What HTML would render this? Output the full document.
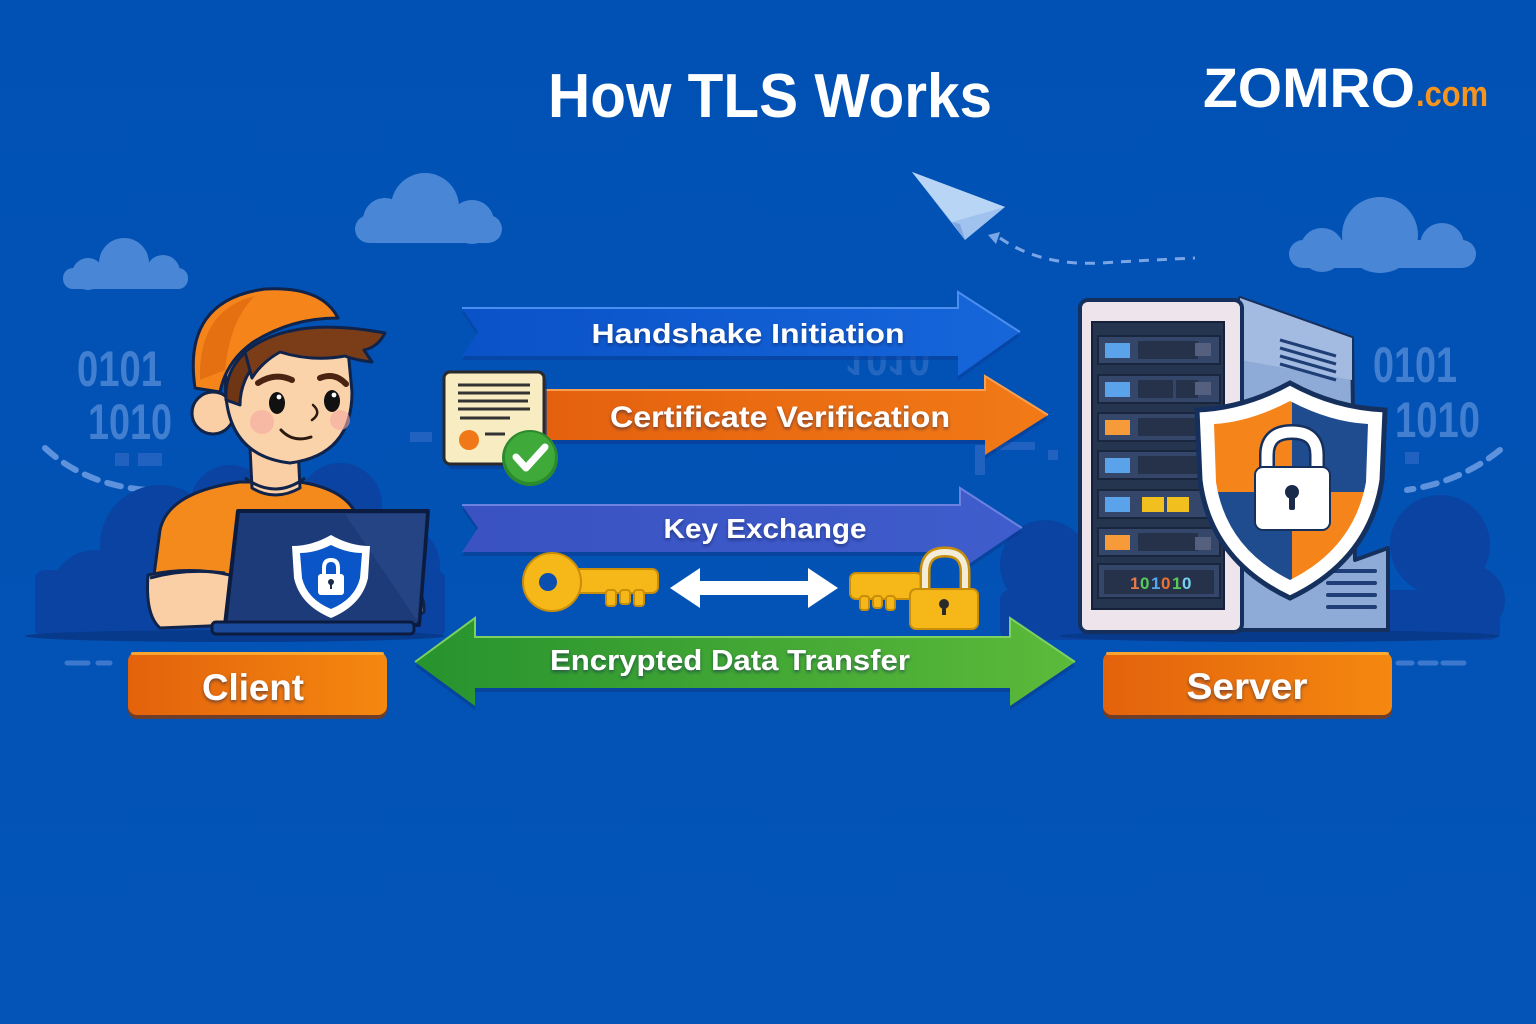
<!DOCTYPE html>
<html><head><meta charset="utf-8"><style>
html,body{margin:0;padding:0;background:#0052b4;}
svg{display:block;}
text{font-family:"Liberation Sans",sans-serif;font-weight:bold;}
</style></head><body>
<svg width="1536" height="1024" viewBox="0 0 1536 1024" xmlns="http://www.w3.org/2000/svg">
<defs>
<linearGradient id="bg" x1="0" y1="0" x2="0" y2="1"><stop offset="0" stop-color="#0051b3"/><stop offset="1" stop-color="#0354b6"/></linearGradient>
<linearGradient id="gBlue" x1="0" y1="0" x2="1" y2="0"><stop offset="0" stop-color="#0a52c8"/><stop offset="1" stop-color="#1666da"/></linearGradient>
<linearGradient id="gOr" x1="0" y1="0" x2="1" y2="0"><stop offset="0" stop-color="#e4600e"/><stop offset="1" stop-color="#f27a16"/></linearGradient>
<linearGradient id="gKey" x1="0" y1="0" x2="1" y2="0"><stop offset="0" stop-color="#3a52c2"/><stop offset="1" stop-color="#3f5dcc"/></linearGradient>
<linearGradient id="gGr" x1="0" y1="0" x2="1" y2="0"><stop offset="0" stop-color="#27932e"/><stop offset="1" stop-color="#5cba3a"/></linearGradient>
<linearGradient id="gBtn" x1="0" y1="0" x2="1" y2="0"><stop offset="0" stop-color="#e3620c"/><stop offset="1" stop-color="#f5880f"/></linearGradient>
<clipPath id="shClip"><path d="M1290 401 Q1250 422 1214 424 L1216 482 Q1226 548 1290 580 Q1354 548 1366 482 L1368 424 Q1330 422 1290 401 Z"/></clipPath>
<filter id="ts" x="-10%" y="-30%" width="120%" height="160%"><feDropShadow dx="0" dy="2" stdDeviation="1.5" flood-color="#0a1e50" flood-opacity="0.55"/></filter>
</defs>
<rect width="1536" height="1024" fill="url(#bg)"/>

<!-- clouds -->
<g fill="#4a86d6">
<circle cx="425" cy="207" r="34"/><circle cx="385" cy="220" r="22"/><circle cx="472" cy="222" r="22"/><rect x="355" y="215" width="147" height="28" rx="14"/>
<circle cx="124" cy="263" r="25"/><circle cx="88" cy="274" r="16"/><circle cx="163" cy="272" r="17"/><rect x="63" y="268" width="125" height="21" rx="10"/>
<circle cx="1380" cy="235" r="38"/><circle cx="1322" cy="250" r="22"/><circle cx="1442" cy="245" r="22"/><rect x="1289" y="240" width="187" height="28" rx="14"/>
</g>

<!-- paper plane -->
<polygon points="912,172 1005,207 965,240" fill="#9fc2ef"/>
<polygon points="912,172 1005,207 952,222" fill="#b9d5f6"/>
<polygon points="952,222 965,240 960,224" fill="#7fa6e0"/>
<path d="M1000 238 Q1040 266 1100 263 Q1150 260 1195 258" fill="none" stroke="#7aa6e6" stroke-width="3" stroke-dasharray="10 8"/>
<polygon points="988,235 1000,232 996,244" fill="#7aa6e6"/>

<!-- title & logo -->
<text x="770" y="117" font-size="62" fill="#fff" text-anchor="middle" textLength="444" lengthAdjust="spacingAndGlyphs">How TLS Works</text>
<text x="1203" y="107" font-size="56" fill="#fff" textLength="212" lengthAdjust="spacingAndGlyphs">ZOMRO</text>
<text x="1416" y="106" font-size="36" fill="#f7941d" textLength="72" lengthAdjust="spacingAndGlyphs">.com</text>

<!-- binary -->
<g fill="#4f88d6" opacity="0.85">
<text x="77" y="386" font-size="50" textLength="85" lengthAdjust="spacingAndGlyphs">0101</text>
<text x="88" y="439" font-size="50" textLength="84" lengthAdjust="spacingAndGlyphs">1010</text>
<text x="1373" y="382" font-size="50" textLength="84" lengthAdjust="spacingAndGlyphs">0101</text>
<text x="1395" y="437" font-size="50" textLength="85" lengthAdjust="spacingAndGlyphs">1010</text>
</g>
<g transform="translate(0,675) scale(1,-1)">
<text x="845" y="330" font-size="44" fill="#3f78cc" opacity="0.55" textLength="85" lengthAdjust="spacingAndGlyphs">1010</text>
</g>
<g fill="#2f68c4" opacity="0.7"><rect x="115" y="453" width="14" height="13"/><rect x="138" y="453" width="24" height="13"/><rect x="410" y="432" width="22" height="10"/><rect x="1048" y="450" width="10" height="10"/><rect x="975" y="445" width="10" height="30"/><rect x="990" y="442" width="45" height="8"/><rect x="1405" y="452" width="14" height="12"/></g>
<path d="M45 448 Q85 485 147 490" fill="none" stroke="#5e92dc" stroke-width="6" stroke-dasharray="14 10" stroke-linecap="round"/>
<path d="M1500 450 Q1460 482 1407 490" fill="none" stroke="#5e92dc" stroke-width="6" stroke-dasharray="14 10" stroke-linecap="round"/>
<g stroke="#3d78cf" stroke-width="5" stroke-linecap="round"><line x1="67" y1="663" x2="88" y2="663"/><line x1="98" y1="663" x2="110" y2="663"/><line x1="1398" y1="663" x2="1412" y2="663"/><line x1="1420" y1="663" x2="1436" y2="663"/><line x1="1443" y1="663" x2="1464" y2="663"/></g>

<!-- dark blobs -->
<g fill="#0a43a2">
<circle cx="95" cy="595" r="45"/><circle cx="160" cy="545" r="60"/><circle cx="230" cy="505" r="40"/><circle cx="340" cy="505" r="42"/><circle cx="400" cy="565" r="40"/><rect x="35" y="570" width="410" height="68" rx="10"/>
<circle cx="1045" cy="565" r="45"/><circle cx="1440" cy="545" r="50"/><circle cx="1470" cy="600" r="35"/><rect x="1000" y="590" width="500" height="50" rx="10"/>
</g>
<ellipse cx="235" cy="636" rx="210" ry="6" fill="#083a8c"/>
<ellipse cx="1280" cy="636" rx="220" ry="6" fill="#083a8c"/>

<!-- ARROWS -->
<polygon points="462,312 958,312 958,296 1020,336 958,380 958,360 462,360 478,336" fill="#0a3f9e" opacity="0.6"/>
<polygon points="462,308 958,308 958,292 1020,332 958,376 958,356 462,356 478,332" fill="url(#gBlue)"/>
<polyline points="462,308 958,308 958,292 1020,332" fill="none" stroke="#4a8ef0" stroke-width="2"/>
<text x="748" y="343" font-size="28" fill="#fff" text-anchor="middle" textLength="313" lengthAdjust="spacingAndGlyphs" filter="url(#ts)">Handshake Initiation</text>

<polygon points="540,394 985,394 985,380 1048,419 985,459 985,444 540,444" fill="#0a3a90" opacity="0.6"/>
<polygon points="540,390 985,390 985,376 1048,415 985,455 985,440 540,440" fill="url(#gOr)"/>
<polyline points="540,390 985,390 985,376 1048,415" fill="none" stroke="#f8a050" stroke-width="2"/>
<text x="780" y="427" font-size="30" fill="#fff" text-anchor="middle" textLength="340" lengthAdjust="spacingAndGlyphs" filter="url(#ts)">Certificate Verification</text>

<polygon points="462,509 960,509 960,492 1022,532 960,574 960,556 462,556 478,532" fill="#0a3a90" opacity="0.6"/>
<polygon points="462,505 960,505 960,488 1022,528 960,570 960,552 462,552 478,528" fill="url(#gKey)"/>
<polyline points="462,505 960,505 960,488 1022,528" fill="none" stroke="#6b82e0" stroke-width="2"/>
<text x="765" y="538" font-size="28" fill="#fff" text-anchor="middle" textLength="203" lengthAdjust="spacingAndGlyphs" filter="url(#ts)">Key Exchange</text>

<polygon points="415,666 475,622 475,641 1010,641 1010,622 1075,666 1010,710 1010,692 475,692 475,710" fill="#0a3a90" opacity="0.6"/>
<polygon points="415,662 475,618 475,637 1010,637 1010,618 1075,662 1010,706 1010,688 475,688 475,706" fill="url(#gGr)"/>
<polyline points="415,662 475,618 475,637 1010,637 1010,618 1075,662" fill="none" stroke="#7ed060" stroke-width="2"/>
<text x="730" y="670" font-size="29" fill="#fff" text-anchor="middle" textLength="360" lengthAdjust="spacingAndGlyphs" filter="url(#ts)">Encrypted Data Transfer</text>

<!-- certificate -->
<rect x="447" y="376" width="100" height="93" rx="6" fill="#0a3a90" opacity="0.6"/>
<rect x="444" y="372" width="100" height="92" rx="6" fill="#f8ecc2" stroke="#2a2a2a" stroke-width="3"/>
<g stroke="#333" stroke-width="3"><line x1="458" y1="385" x2="530" y2="385"/><line x1="458" y1="393" x2="530" y2="393"/><line x1="458" y1="401" x2="528" y2="401"/><line x1="458" y1="409" x2="530" y2="409"/><line x1="460" y1="418" x2="510" y2="418"/><line x1="485" y1="434" x2="505" y2="434"/></g>
<circle cx="469" cy="440" r="10" fill="#f07818"/>
<circle cx="530" cy="458" r="28" fill="#2c8a2e"/>
<circle cx="530" cy="457" r="25" fill="#3faa3a"/>
<path d="M516 457 L526 468 L545 447" fill="none" stroke="#fff" stroke-width="7" stroke-linecap="round" stroke-linejoin="round"/>

<!-- keys -->
<g stroke="#c88e0a" stroke-width="2">
<rect x="572" y="569" width="86" height="24" rx="6" fill="#f5b818"/>
<rect x="606" y="590" width="10" height="16" rx="3" fill="#f5b818"/><rect x="620" y="590" width="10" height="14" rx="3" fill="#f5b818"/><rect x="634" y="590" width="10" height="16" rx="3" fill="#f5b818"/>
<circle cx="552" cy="582" r="29" fill="#f5b818"/>
</g>
<circle cx="548" cy="582" r="9" fill="#0a4fb0"/>
<polygon points="670,588 700,568 700,581 808,581 808,568 838,588 808,608 808,595 700,595 700,608" fill="#fff"/>
<g stroke="#c88e0a" stroke-width="2">
<rect x="850" y="573" width="72" height="26" rx="6" fill="#f5b818"/>
<rect x="860" y="596" width="9" height="14" rx="3" fill="#f5b818"/><rect x="873" y="596" width="9" height="12" rx="3" fill="#f5b818"/><rect x="886" y="596" width="9" height="14" rx="3" fill="#f5b818"/>
</g>
<path d="M925 592 L925 572 Q925 552 945 552 Q965 552 965 572 L965 592" fill="none" stroke="#c88e0a" stroke-width="11"/>
<path d="M925 592 L925 572 Q925 552 945 552 Q965 552 965 572 L965 592" fill="none" stroke="#f3ecd8" stroke-width="6"/>
<rect x="910" y="589" width="68" height="40" rx="6" fill="#f5b818" stroke="#c88e0a" stroke-width="2"/>
<circle cx="944" cy="604" r="5" fill="#2a2a2a"/><rect x="942" y="604" width="4" height="11" fill="#2a2a2a"/>

<!-- PERSON -->
<g stroke="#10234a" stroke-width="3" stroke-linejoin="round">
<path d="M150 605 L160 530 Q168 492 240 482 L300 482 Q350 490 358 520 L362 600 Z" fill="#f58a1c"/>
<path d="M250 448 L252 488 Q275 502 300 488 L298 448 Z" fill="#fbcfa6"/>
<path d="M245 478 Q275 500 305 478" fill="none"/>
<circle cx="213" cy="413" r="21" fill="#fbcfa6"/>
<path d="M226 372 Q220 455 290 463 Q352 455 352 392 L348 350 L232 352 Z" fill="#fbd3aa"/>
<path d="M226 400 Q224 370 248 350 L262 356 Q240 378 240 405 Z" fill="#6e3614"/>
<path d="M245 352 Q290 315 385 333 Q378 347 364 350 L372 362 Q355 360 345 356 Q312 362 280 352 Q262 362 252 378 Z" fill="#7a3d18"/>
<path d="M195 388 Q182 300 265 289 Q322 286 338 318 Q290 318 252 343 Q226 362 220 392 Z" fill="#f5851a"/>
<path d="M148 575 Q190 566 230 575 L232 625 L160 628 Q145 615 148 575 Z" fill="#fbcfa6"/>
<path d="M150 578 Q185 568 225 573" fill="none"/>
<path d="M412 590 Q425 592 424 612 L414 618 Z" fill="#fbcfa6"/>
</g>
<path d="M200 380 Q198 310 255 296 Q230 320 225 370 Z" fill="#e06a10" opacity="0.8"/>
<circle cx="262" cy="422" r="12" fill="#f5a8a0" opacity="0.6"/><circle cx="340" cy="420" r="10" fill="#f5a8a0" opacity="0.6"/>
<ellipse cx="277" cy="403" rx="8" ry="11" fill="#111"/><ellipse cx="332" cy="401" rx="8" ry="11" fill="#111"/>
<circle cx="279" cy="397" r="2.4" fill="#fff"/><circle cx="334" cy="395" r="2.4" fill="#fff"/>
<path d="M258 383 Q275 372 292 380" fill="none" stroke="#4a2410" stroke-width="6" stroke-linecap="round"/>
<path d="M320 378 Q335 372 346 384" fill="none" stroke="#4a2410" stroke-width="6" stroke-linecap="round"/>
<path d="M313 405 Q322 413 312 420" fill="none" stroke="#2a1a10" stroke-width="2.5" stroke-linecap="round"/>
<path d="M281 430 Q293 443 311 437" fill="none" stroke="#2a1a10" stroke-width="3" stroke-linecap="round"/>

<!-- laptop -->
<path d="M238 511 L428 511 L419 625 L225 625 Z" fill="#1d3b78" stroke="#0c1c40" stroke-width="4" stroke-linejoin="round"/>
<path d="M345 514 L426 514 L418 622 Z" fill="#2a4b8a" opacity="0.6"/>
<rect x="212" y="622" width="202" height="12" rx="4" fill="#1a4a9c" stroke="#0c1c40" stroke-width="3"/>
<path d="M331 535 Q350 546 370 546 L368 578 Q362 605 331 618 Q300 605 294 578 L292 546 Q312 546 331 535 Z" fill="#fff"/>
<path d="M331 545 Q347 553 362 553 L360 578 Q355 599 331 609 Q307 599 302 578 L300 553 Q315 553 331 545 Z" fill="#0a55c8"/>
<path d="M324 576 L324 568 Q324 560 331 560 Q338 560 338 568 L338 576" fill="none" stroke="#fff" stroke-width="4"/>
<rect x="318" y="574" width="26" height="21" rx="3" fill="#fff"/>
<circle cx="331" cy="582" r="3" fill="#1a2a4a"/><rect x="330" y="582" width="2" height="7" fill="#1a2a4a"/>

<!-- SERVER -->
<path d="M1240 298 L1352 338 L1355 560 L1388 548 L1388 630 L1240 630 Z" fill="#8eaad6" stroke="#16305e" stroke-width="4" stroke-linejoin="round"/>
<path d="M1240 298 L1352 338 L1352 380 L1240 360 Z" fill="#a3bbe0"/>
<g stroke="#1f3e78" stroke-width="3"><line x1="1280" y1="340" x2="1336" y2="356"/><line x1="1280" y1="348" x2="1336" y2="364"/><line x1="1280" y1="356" x2="1336" y2="372"/><line x1="1280" y1="364" x2="1336" y2="380"/></g>
<g stroke="#1f3e78" stroke-width="4" stroke-linecap="round"><line x1="1328" y1="571" x2="1375" y2="571"/><line x1="1328" y1="583" x2="1375" y2="583"/><line x1="1328" y1="595" x2="1375" y2="595"/><line x1="1328" y1="607" x2="1375" y2="607"/></g>
<rect x="1080" y="300" width="162" height="332" rx="8" fill="#eee5ec" stroke="#16305e" stroke-width="4"/>
<rect x="1092" y="322" width="132" height="287" fill="#25344f" stroke="#16203a" stroke-width="2"/>
<g fill="#34476b" stroke="#1a263e" stroke-width="2">
<rect x="1098" y="336" width="122" height="28"/><rect x="1098" y="375" width="122" height="28"/><rect x="1098" y="413" width="122" height="28"/><rect x="1098" y="451" width="122" height="28"/><rect x="1098" y="490" width="122" height="28"/><rect x="1098" y="528" width="122" height="28"/><rect x="1098" y="564" width="122" height="34"/>
</g>
<g fill="#26324a"><rect x="1138" y="341" width="60" height="18"/><rect x="1138" y="380" width="35" height="18"/><rect x="1176" y="380" width="22" height="18"/><rect x="1138" y="418" width="60" height="18"/><rect x="1138" y="456" width="60" height="18"/><rect x="1138" y="533" width="60" height="18"/><rect x="1104" y="570" width="110" height="24"/></g>
<g fill="#55607e"><rect x="1195" y="343" width="16" height="13"/><rect x="1195" y="382" width="16" height="13"/><rect x="1195" y="537" width="16" height="13"/></g>
<g><rect x="1105" y="343" width="25" height="15" fill="#5aa2ea"/><rect x="1105" y="382" width="25" height="15" fill="#5aa2ea"/><rect x="1105" y="420" width="25" height="15" fill="#f79a3a"/><rect x="1105" y="458" width="25" height="15" fill="#5aa2ea"/><rect x="1105" y="497" width="25" height="15" fill="#5aa2ea"/><rect x="1142" y="497" width="22" height="15" fill="#f2c01e"/><rect x="1167" y="497" width="22" height="15" fill="#f2c01e"/><rect x="1105" y="535" width="25" height="15" fill="#f79a3a"/></g>
<g font-size="17" font-family="Liberation Sans, sans-serif" font-weight="bold"><text x="1130" y="589" fill="#e87a4a">1</text><text x="1140" y="589" fill="#5ac85a">0</text><text x="1151" y="589" fill="#55a8e8">1</text><text x="1161" y="589" fill="#f07030">0</text><text x="1172" y="589" fill="#5ac85a">1</text><text x="1182" y="589" fill="#7ad0f0">0</text></g>
<path d="M1290 383 Q1245 408 1197 410 L1200 480 Q1210 560 1290 598 Q1370 560 1382 480 L1385 410 Q1335 408 1290 383 Z" fill="#fff" stroke="#16305e" stroke-width="5"/>
<g clip-path="url(#shClip)"><rect x="1200" y="395" width="92" height="97" fill="#f5851a"/><rect x="1292" y="395" width="90" height="97" fill="#1f4c8f"/><rect x="1200" y="492" width="92" height="100" fill="#1f4c8f"/><rect x="1292" y="492" width="90" height="100" fill="#f5851a"/></g>
<path d="M1267 470 L1267 455 Q1267 432 1292 432 Q1317 432 1317 455 L1317 470" fill="none" stroke="#16305e" stroke-width="16"/>
<path d="M1267 470 L1267 455 Q1267 432 1292 432 Q1317 432 1317 455 L1317 470" fill="none" stroke="#fff" stroke-width="11"/>
<rect x="1255" y="467" width="75" height="63" rx="8" fill="#fff" stroke="#16305e" stroke-width="2"/>
<circle cx="1292" cy="492" r="7" fill="#1a2a4a"/><rect x="1289" y="494" width="6" height="16" rx="2" fill="#1a2a4a"/>

<!-- buttons -->
<rect x="128" y="655" width="259" height="64" rx="9" fill="#8a3a08" opacity="0.8"/>
<rect x="128" y="652" width="259" height="63" rx="9" fill="url(#gBtn)"/>
<rect x="131" y="652" width="253" height="3" rx="1.5" fill="#ffb43a" opacity="0.8"/>
<text x="253" y="700" font-size="37" fill="#fff" text-anchor="middle" textLength="102" lengthAdjust="spacingAndGlyphs" filter="url(#ts)">Client</text>
<rect x="1103" y="655" width="289" height="64" rx="9" fill="#8a3a08" opacity="0.8"/>
<rect x="1103" y="652" width="289" height="63" rx="9" fill="url(#gBtn)"/>
<rect x="1106" y="652" width="283" height="3" rx="1.5" fill="#ffb43a" opacity="0.8"/>
<text x="1247" y="699" font-size="37" fill="#fff" text-anchor="middle" textLength="121" lengthAdjust="spacingAndGlyphs" filter="url(#ts)">Server</text>
</svg>
</body></html>
